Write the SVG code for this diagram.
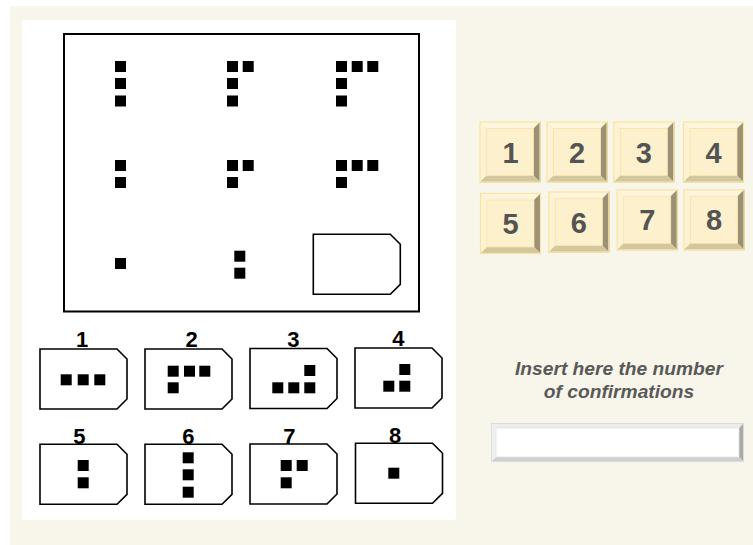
<svg xmlns="http://www.w3.org/2000/svg" xmlns:xlink="http://www.w3.org/1999/xlink" width="753" height="545" viewBox="0 0 753 545">
<style>
.sq{fill:#000}
.card{fill:#fff;stroke:#000;stroke-width:1.6;stroke-linejoin:miter}
.lbl{font-family:"Liberation Sans",Arial,sans-serif;font-weight:bold;font-size:22px;fill:#000;text-anchor:middle}
.bt{font-family:"Liberation Sans",Arial,sans-serif;font-weight:bold;font-size:29px;fill:#545454;text-anchor:middle}
.ins{font-family:"Liberation Sans",Arial,sans-serif;font-weight:bold;font-style:italic;font-size:19.2px;fill:#595959;text-anchor:middle}
</style>
<defs>
<path id="card" class="card" d="M0,0 H77 L87,10 V50 L77,60 H0 Z"/>
<rect id="s" class="sq" width="11" height="11"/>
<g id="btn">
<rect x="0" y="0" width="61" height="61" fill="#fdf1cf"/>
<polygon points="0,0 61,0 54,7 7,7" fill="#fef5dc"/>
<polygon points="0,0 7,7 7,54 0,61" fill="#fdf2d4"/>
<polygon points="61,0 61,61 54,54 54,7" fill="#9b9275"/>
<polygon points="0,61 61,61 54,54 7,54" fill="#d3c7a0"/>
<rect x="7" y="7" width="47" height="47" fill="#fdf0cc" stroke="#f7e3a8" stroke-width="0.8"/>
<rect x="0.5" y="0.5" width="60" height="60" fill="none" stroke="#f9e4a0" stroke-width="1.2"/>
</g>
</defs>
<rect x="10" y="6" width="743" height="539" fill="#f8f5ea"/>
<rect x="22" y="20" width="434" height="500" fill="#fff"/>

<g id="matrix">
<rect x="64" y="34" width="355" height="277.5" fill="none" stroke="#000" stroke-width="2"/>
<g id="cell-1-1"><use href="#s" x="115" y="61"/><use href="#s" x="115" y="78"/><use href="#s" x="115" y="95.5"/></g>
<g id="cell-1-2"><use href="#s" x="227" y="61"/><use href="#s" x="242.7" y="61"/><use href="#s" x="227" y="78"/><use href="#s" x="227" y="95.5"/></g>
<g id="cell-1-3"><use href="#s" x="336" y="61"/><use href="#s" x="351.7" y="61"/><use href="#s" x="367.3" y="61"/><use href="#s" x="336" y="78"/><use href="#s" x="336" y="95.5"/></g>
<g id="cell-2-1"><use href="#s" x="115" y="160"/><use href="#s" x="115" y="177"/></g>
<g id="cell-2-2"><use href="#s" x="227" y="160"/><use href="#s" x="242.7" y="160"/><use href="#s" x="227" y="177"/></g>
<g id="cell-2-3"><use href="#s" x="336" y="160"/><use href="#s" x="351.7" y="160"/><use href="#s" x="367.3" y="160"/><use href="#s" x="336" y="177"/></g>
<g id="cell-3-1"><use href="#s" x="115" y="258"/></g>
<g id="cell-3-2"><use href="#s" x="234.3" y="250.7"/><use href="#s" x="234.3" y="267.7"/></g>
<g id="cell-3-3"><use href="#card" x="313.3" y="234.3"/></g>
</g>

<g id="option-1"><text class="lbl" x="82" y="347">1</text><use href="#card" x="40" y="349"/><use href="#s" x="60.7" y="374.3"/><use href="#s" x="77.7" y="374.3"/><use href="#s" x="94.3" y="374.3"/></g>
<g id="option-2"><text class="lbl" x="191.7" y="347">2</text><use href="#card" x="145" y="349"/><use href="#s" x="167.7" y="365.7"/><use href="#s" x="184" y="365.7"/><use href="#s" x="199.3" y="365.7"/><use href="#s" x="167.7" y="382.3"/></g>
<g id="option-3"><text class="lbl" x="293.3" y="347">3</text><use href="#card" x="250" y="348.5"/><use href="#s" x="304.3" y="365"/><use href="#s" x="272.3" y="382.3"/><use href="#s" x="288.3" y="382.3"/><use href="#s" x="304.3" y="382.3"/></g>
<g id="option-4"><text class="lbl" x="398.3" y="346">4</text><use href="#card" x="355" y="348"/><use href="#s" x="399.3" y="364"/><use href="#s" x="383.3" y="380.7"/><use href="#s" x="399.3" y="380.7"/></g>
<g id="option-5"><text class="lbl" x="79.3" y="443.5">5</text><use href="#card" x="40" y="444.3"/><use href="#s" x="77.7" y="460"/><use href="#s" x="77.7" y="477.3"/></g>
<g id="option-6"><text class="lbl" x="188.3" y="443.5">6</text><use href="#card" x="145" y="444.3"/><use href="#s" x="182.7" y="452.3"/><use href="#s" x="182.7" y="469.3"/><use href="#s" x="182.7" y="486.7"/></g>
<g id="option-7"><text class="lbl" x="289.3" y="443.5">7</text><use href="#card" x="250" y="444"/><use href="#s" x="280.7" y="460"/><use href="#s" x="296.7" y="460"/><use href="#s" x="280.7" y="477.3"/></g>
<g id="option-8"><text class="lbl" x="395" y="442.5">8</text><use href="#card" x="355.5" y="443.3"/><use href="#s" x="388.3" y="467.7"/></g>

<g id="button-1"><use href="#btn" x="479.5" y="121.5"/><text class="bt" x="510.5" y="162.5">1</text></g>
<g id="button-2"><use href="#btn" x="546.5" y="121.5"/><text class="bt" x="577" y="162.5">2</text></g>
<g id="button-3"><use href="#btn" x="613.3" y="121.5"/><text class="bt" x="643.8" y="162.5">3</text></g>
<g id="button-4"><use href="#btn" x="683" y="121.5"/><text class="bt" x="713.5" y="162.5">4</text></g>
<g id="button-5"><use href="#btn" x="480" y="193"/><text class="bt" x="510.5" y="234">5</text></g>
<g id="button-6"><use href="#btn" x="548.3" y="191.5"/><text class="bt" x="578.8" y="232.5">6</text></g>
<g id="button-7"><use href="#btn" x="616.7" y="189.3"/><text class="bt" x="647.2" y="230">7</text></g>
<g id="button-8"><use href="#btn" x="683.5" y="189.3"/><text class="bt" x="714" y="230">8</text></g>

<g id="prompt">
<text class="ins" x="619" y="375">Insert here the number</text>
<text class="ins" x="619" y="397.5">of confirmations</text>
</g>

<g id="input-box">
<rect x="491" y="423" width="253" height="39" fill="#fff"/>
<polygon points="491,423 744,423 739,428 496,428" fill="#ececec"/>
<polygon points="491,423 496,428 496,457 491,462" fill="#f0f0f0"/>
<polygon points="744,423 744,462 739,457 739,428" fill="#a8a8a8"/>
<polygon points="491,462 744,462 739,457 496,457" fill="#d0d0d0"/>
<rect x="496" y="428" width="243" height="29" fill="#fff" stroke="#e4e4e4" stroke-width="0.8"/>
<rect x="491.5" y="423.5" width="252" height="38" fill="none" stroke="#dcdcdc" stroke-width="1"/>
</g>
</svg>
